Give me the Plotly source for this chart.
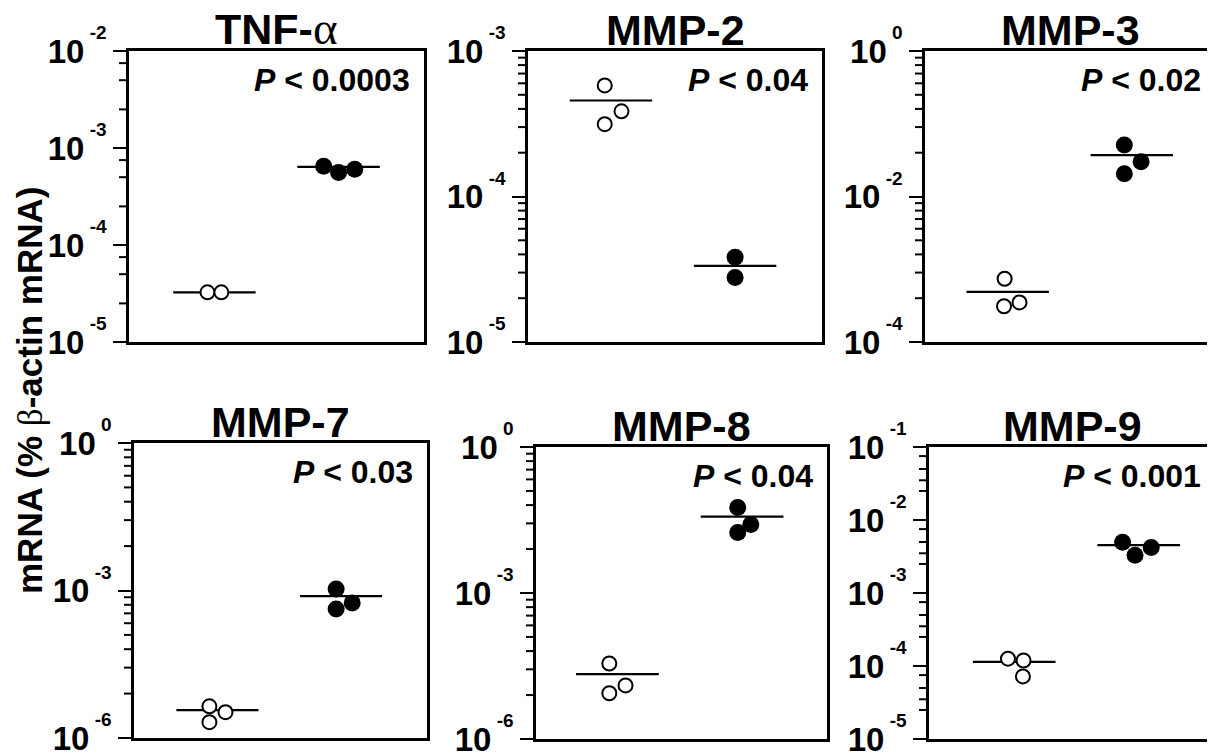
import math
import plotly.graph_objects as go

# ---------------- data ----------------
panel_names = ["TNF-α", "MMP-2", "MMP-3", "MMP-7", "MMP-8", "MMP-9"]
p_values = ["0.0003", "0.04", "0.02", "0.03", "0.04", "0.001"]

# open circles (control)
control_values = [
    [3.25e-5, 3.25e-5],
    [5.8e-4, 3.85e-4, 3.14e-4],
    [7.4e-4, 3.1e-4, 3.5e-4],
    [4.4e-6, 3.35e-6, 2.1e-6],
    [3.56e-5, 1.26e-5, 8.7e-6],
    [1.26e-4, 1.19e-4, 7.2e-5],
]
control_lines = [3.25e-5, 4.57e-4, 4.9e-4, 3.7e-6, 2.15e-5, 1.14e-4]

# filled circles
treated_values = [
    [6.49e-4, 5.58e-4, 6.04e-4],
    [3.83e-5, 2.78e-5],
    [0.051, 0.030, 0.0206],
    [1.07e-3, 5.6e-4, 4.2e-4],
    [0.057, 0.0256, 0.0176],
    [4.94e-3, 4.2e-3, 3.3e-3],
]
treated_lines = [6.38e-4, 3.34e-5, 0.037, 7.7e-4, 0.037, 4.54e-3]

# y-axis decades: (lowest exponent, highest exponent, label step)
y_decades = [(-5, -2, 1), (-5, -3, 1), (-4, 0, 2), (-6, 0, 3), (-6, 0, 3), (-5, -1, 1)]
# minor-tick multipliers inside each labelled interval
minor_mults = [
    [2.5, 5, 7.5],
    [2, 3, 4, 5, 6, 7, 8, 9],
    [2, 3, 4, 5, 6, 7, 8, 9],
    [2, 3, 4, 5, 6, 7, 8, 9],
    [2, 3, 4, 5, 6, 7, 8, 9],
    [2.5, 3.5, 5, 7.5],
]

# ---------------- layout geometry (positions / styles) ----------------
OFF = 8                       # page body margin of the browser
W, H = 1215 - OFF, 756 - OFF
geom_px = [  # x0, x1, ytop, ybottom in window pixels
    (129, 424, 51, 342),
    (528, 822, 51, 342),
    (925, 1215, 51, 342),
    (134, 427, 443, 738),
    (536, 827, 447, 739),
    (929, 1215, 447, 739),
]
x_ranges = [(0.312, 2.688), (0.332, 2.70), (0.333, 2.671),
            (0.325, 2.695), (0.347, 2.681), (0.316, 2.612)]
control_jitter = [
    [-0.056, 0.056],
    [-0.05, 0.085, -0.05],
    [-0.025, -0.03, 0.095],
    [-0.065, 0.065, -0.065],
    [-0.065, 0.065, -0.065],
    [-0.05, 0.075, 0.07],
]
treated_jitter = [
    [-0.12, 0.0, 0.13],
    [0.0, 0.0],
    [-0.06, 0.075, -0.06],
    [-0.04, 0.09, -0.04],
    [-0.035, 0.07, -0.035],
    [-0.13, 0.1, -0.03],
]
HALF = 0.332
FONT = "Liberation Sans, Arial, Helvetica, sans-serif"
SERIF = "Liberation Serif"

fig = go.Figure()
annotations = []
shapes = []
layout = {}

for i in range(6):
    n = i + 1
    xa = "x" if n == 1 else f"x{n}"
    ya = "y" if n == 1 else f"y{n}"
    x0, x1, yt, yb = [v - OFF for v in geom_px[i]]
    x1 = min(x1, W)
    xr = x_ranges[i]
    ydom = [1 - yb / H, 1 - yt / H]

    # median lines
    for grp, val in ((1, control_lines[i]), (2, treated_lines[i])):
        fig.add_trace(go.Scatter(
            x=[grp - HALF, grp + HALF], y=[val, val], mode="lines",
            line=dict(color="black", width=2.2), xaxis=xa, yaxis=ya,
            showlegend=False, hoverinfo="skip"))
    # open circles
    fig.add_trace(go.Scatter(
        x=[1 + j for j in control_jitter[i]], y=control_values[i], mode="markers",
        marker=dict(symbol="circle", size=14, color="white",
                    line=dict(color="black", width=2)),
        xaxis=xa, yaxis=ya, showlegend=False))
    # filled circles
    fig.add_trace(go.Scatter(
        x=[2 + j for j in treated_jitter[i]], y=treated_values[i], mode="markers",
        marker=dict(symbol="circle", size=17, color="black",
                    line=dict(color="black", width=0)),
        xaxis=xa, yaxis=ya, showlegend=False))

    lo, hi, step = y_decades[i]
    majors = list(range(lo, hi + 1, step))
    tickvals = [10.0 ** e for e in majors]
    ticktext = [f"10<sup><sup><span style='font-size:19px'>&nbsp;{e}</span></sup></sup>"
                for e in majors]

    # short minor ticks outside the left axis line (paper-referenced lines)
    for e in majors[:-1]:
        for k in minor_mults[i]:
            frac = (e + step * math.log10(k) - lo) / (hi - lo)
            yp = ydom[0] + frac * (ydom[1] - ydom[0])
            shapes.append(dict(
                type="line", xref="paper", yref="paper",
                x0=(x0 - 10) / W, x1=(x0 - 1) / W, y0=yp, y1=yp,
                line=dict(color="black", width=2), layer="above"))

    key_x = "xaxis" if n == 1 else f"xaxis{n}"
    key_y = "yaxis" if n == 1 else f"yaxis{n}"
    layout[key_x] = dict(
        domain=[x0 / W, x1 / W], range=list(xr), anchor=ya,
        showline=True, mirror=True, linecolor="black", linewidth=2.5,
        showticklabels=False, ticks="", showgrid=False, zeroline=False,
        automargin=False)
    layout[key_y] = dict(
        domain=ydom, type="log", range=[lo, hi], anchor=xa,
        showline=True, mirror=True, linecolor="black", linewidth=2.5,
        showgrid=False, zeroline=False, automargin=False,
        tickmode="array", tickvals=tickvals, ticktext=ticktext,
        ticklabeloverflow="allow",
        ticks="outside", ticklen=13, tickwidth=2, tickcolor="black",
        tickfont=dict(family=FONT, size=33, color="black", weight="bold"))

    name = panel_names[i]
    if name.endswith("α"):
        title_txt = name[:-1] + f"<span style='font-family:{SERIF};font-weight:normal;font-size:47px'>α</span>"
    else:
        title_txt = name
    annotations.append(dict(
        text=title_txt, xref=f"{xa} domain", yref=f"{ya} domain",
        x=0.5, y=1, xanchor="center", yanchor="bottom", yshift=-5,
        showarrow=False, font=dict(family=FONT, size=43, color="black", weight="bold")))
    annotations.append(dict(
        text=f"<i>P</i> &lt; {p_values[i]}", xref=f"{xa} domain", yref=f"{ya} domain",
        x=1, y=1, xanchor="right", yanchor="top", xshift=-12, yshift=-9,
        showarrow=False, font=dict(family=FONT, size=32, color="black", weight="bold")))

annotations.append(dict(
    text=f"mRNA (% <span style='font-family:{SERIF};font-weight:normal'>β</span>-actin mRNA)",
    xref="paper", yref="paper", x=(30 - OFF) / W, y=1 - (391 - OFF) / H,
    xanchor="center", yanchor="middle", textangle=-90, showarrow=False,
    font=dict(family=FONT, size=35, color="black", weight="bold")))

fig.update_layout(
    width=W, height=H, margin=dict(l=0, r=0, t=0, b=0, autoexpand=False),
    paper_bgcolor="white", plot_bgcolor="white",
    font=dict(family=FONT, color="black"),
    annotations=annotations, shapes=shapes, showlegend=False, **layout)

fig.write_html("out.html")
